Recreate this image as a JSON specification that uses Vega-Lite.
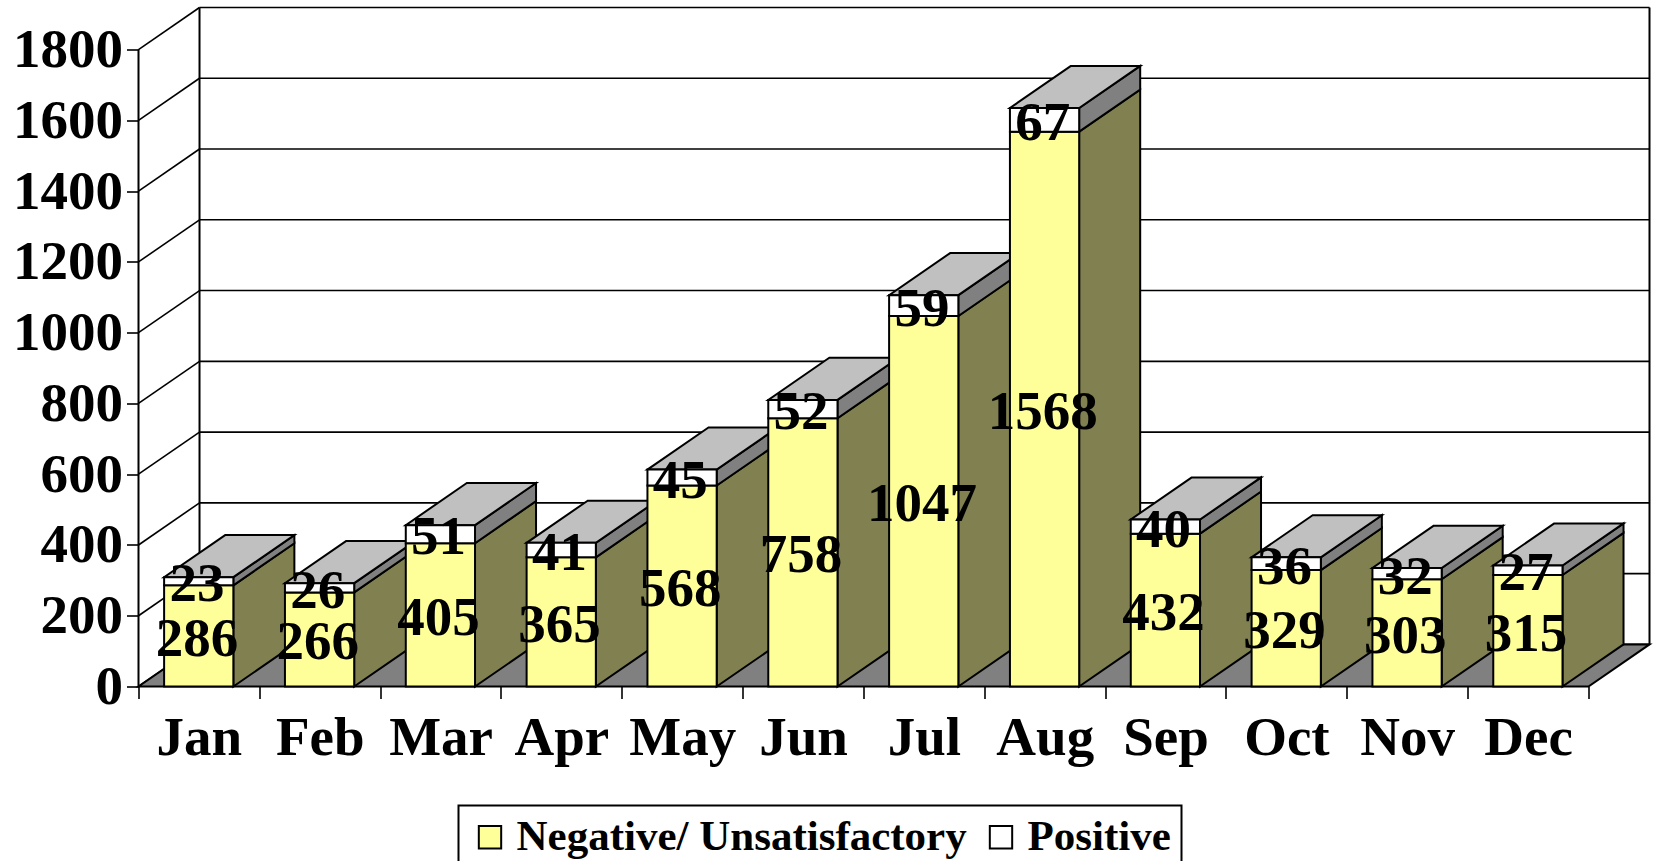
{
"$schema":"https://vega.github.io/schema/vega-lite/v6.json",
"width":1511,"height":679,"autosize":{"type":"none"},
"padding":{"left":138.5,"top":7.5,"right":6.5,"bottom":174.5},
"background":"white",
"config":{"view":{"stroke":null},"font":"Liberation Serif","legend":{"strokeWidth":2}},
"datasets":{
"months":[
{"month":"Jan","neg":286,"pos":23},{"month":"Feb","neg":266,"pos":26},{"month":"Mar","neg":405,"pos":51},{"month":"Apr","neg":365,"pos":41},{"month":"May","neg":568,"pos":45},{"month":"Jun","neg":758,"pos":52},{"month":"Jul","neg":1047,"pos":59},{"month":"Aug","neg":1568,"pos":67},{"month":"Sep","neg":432,"pos":40},{"month":"Oct","neg":329,"pos":36},{"month":"Nov","neg":303,"pos":32},{"month":"Dec","neg":315,"pos":27}],
"grid":[{"v":0},{"v":200},{"v":400},{"v":600},{"v":800},{"v":1000},{"v":1200},{"v":1400},{"v":1600},{"v":1800}],
"cats":[{"c":0},{"c":1},{"c":2},{"c":3},{"c":4},{"c":5},{"c":6},{"c":7},{"c":8},{"c":9},{"c":10},{"c":11},{"c":12}],
"depth":[{"d":0},{"d":1}]
},
"data":{"name":"months"},
"transform":[
{"window":[{"op":"row_number","as":"n"}]},
{"calculate":"datum.n-0.5-0.288","as":"x0"},
{"calculate":"datum.n-0.5+0.285","as":"x1"},
{"calculate":"datum.neg+datum.pos","as":"total"}
],
"resolve":{"axis":{"x":"independent","y":"independent"}},
"layer":[
{"data":{"name":"grid"},
 "transform":[{"calculate":"datum.v+119","as":"yb"},{"calculate":"0.505","as":"xa"},{"calculate":"12.505","as":"xb"}],
 "mark":{"type":"rule","stroke":"black","strokeWidth":1.6},
 "encoding":{"x":{"field":"xa","type":"quantitative","scale":{"domain":[0,12.505],"nice":false,"zero":false},"axis":{"values":[0,1,2,3,4,5,6,7,8,9,10,11,12],"orient":"bottom","labels":false,"domain":false,"grid":false,"ticks":true,"tickSize":12,"tickWidth":1.6,"tickColor":"black","title":null}},
 "x2":{"field":"xb"},
 "y":{"field":"yb","type":"quantitative","scale":{"domain":[0,1919],"nice":false,"zero":false},"axis":{"values":[0,200,400,600,800,1000,1200,1400,1600,1800],"format":"d","orient":"left","domain":false,"grid":false,"tickSize":12,"tickWidth":1.6,"tickColor":"black","labelPadding":4,"labelFont":"Liberation Serif","labelFontWeight":"bold","labelFontSize":55,"labelColor":"black","title":null}}}},
{"data":{"name":"grid"},
 "transform":[{"calculate":"datum.v+119","as":"yb"},{"calculate":"0","as":"xa"},{"calculate":"0.505","as":"xb"}],
 "mark":{"type":"rule","stroke":"black","strokeWidth":1.6},
 "encoding":{"x":{"field":"xa","type":"quantitative","axis":null},"x2":{"field":"xb"},"y":{"field":"v","type":"quantitative","axis":null},"y2":{"field":"yb"}}},
{"data":{"values":[{"x":0,"a":0,"b":1800},{"x":0.505,"a":119,"b":1919},{"x":12.505,"a":119,"b":1919}]},
 "mark":{"type":"rule","stroke":"black","strokeWidth":2},
 "encoding":{"x":{"field":"x","type":"quantitative","axis":null},"y":{"field":"a","type":"quantitative","axis":null},"y2":{"field":"b"}}},
{"data":{"name":"depth"},
 "transform":[{"calculate":"datum.d*0.505","as":"xa"},{"calculate":"12+datum.d*0.505","as":"xb"},{"calculate":"datum.d*119","as":"yb"}],
 "mark":{"type":"area","orient":"horizontal","fill":"#808080","stroke":"black","strokeWidth":2},
 "encoding":{"x":{"field":"xa","type":"quantitative","axis":null},"x2":{"field":"xb"},"y":{"field":"yb","type":"quantitative","axis":null}}},
{"transform":[{"calculate":"[0,1]","as":"d"},{"flatten":["d"]},{"calculate":"datum.x1+datum.d*0.505","as":"xs"},{"calculate":"datum.d*119","as":"ya"},{"calculate":"datum.neg+datum.d*119","as":"yb"}],
 "mark":{"type":"area","fill":"#808050","stroke":"black","strokeWidth":2},
 "encoding":{"detail":{"field":"month"},"x":{"field":"xs","type":"quantitative","axis":null},"y":{"field":"ya","type":"quantitative","axis":null,"stack":null},"y2":{"field":"yb"}}},
{"transform":[{"calculate":"[0,1]","as":"d"},{"flatten":["d"]},{"calculate":"datum.x1+datum.d*0.505","as":"xs"},{"calculate":"datum.neg+datum.d*119","as":"ya"},{"calculate":"datum.total+datum.d*119","as":"yb"}],
 "mark":{"type":"area","fill":"#808080","stroke":"black","strokeWidth":2},
 "encoding":{"detail":{"field":"month"},"x":{"field":"xs","type":"quantitative","axis":null},"y":{"field":"ya","type":"quantitative","axis":null,"stack":null},"y2":{"field":"yb"}}},
{"transform":[{"calculate":"[0,1]","as":"d"},{"flatten":["d"]},{"calculate":"datum.x0+datum.d*0.505","as":"xa"},{"calculate":"datum.x1+datum.d*0.505","as":"xb"},{"calculate":"datum.total+datum.d*119","as":"yb"}],
 "mark":{"type":"area","orient":"horizontal","fill":"#c0c0c0","stroke":"black","strokeWidth":2},
 "encoding":{"detail":{"field":"month"},"x":{"field":"xa","type":"quantitative","axis":null},"x2":{"field":"xb"},"y":{"field":"yb","type":"quantitative","axis":null}}},
{"transform":[{"fold":["neg","pos"],"as":["key","value"]},{"calculate":"datum.key=='neg'?'Negative/ Unsatisfactory':'Positive'","as":"series"},{"calculate":"datum.key=='neg'?0:datum.neg","as":"lo"},{"calculate":"datum.lo+datum.value","as":"hi"}],
 "mark":{"type":"rect","stroke":"black","strokeWidth":2},
 "encoding":{"x":{"field":"x0","type":"quantitative","axis":null},"x2":{"field":"x1"},"y":{"field":"lo","type":"quantitative","axis":null},"y2":{"field":"hi"},
 "fill":{"field":"series","type":"nominal","scale":{"domain":["Negative/ Unsatisfactory","Positive"],"range":["#ffff99","#ffffff"]},
  "legend":{"orient":"none","legendX":320,"legendY":798,"direction":"horizontal","columns":2,"title":null,"strokeColor":"black","fillColor":"white","padding":10,"labelFont":"Liberation Serif","labelFontWeight":"bold","labelFontSize":43,"labelColor":"black","labelLimit":600,"labelOffset":5,"columnPadding":12,"symbolType":"square","symbolSize":500,"symbolStrokeColor":"black","symbolStrokeWidth":2}}}},
{"data":{"name":"cats"},
 "mark":{"type":"rule","opacity":0},
 "transform":[{"calculate":"datum.c+0.5","as":"p"}],
 "encoding":{"x":{"field":"p","type":"quantitative","axis":{"values":[0.5,1.5,2.5,3.5,4.5,5.5,6.5,7.5,8.5,9.5,10.5,11.5],"orient":"bottom","domain":false,"ticks":false,"grid":false,"labelFlush":false,"labelOverlap":false,"labelPadding":25,"labelFont":"Liberation Serif","labelFontWeight":"bold","labelFontSize":55,"labelColor":"black","title":null,"labelExpr":"['Jan','Feb','Mar','Apr','May','Jun','Jul','Aug','Sep','Oct','Nov','Dec'][floor(datum.value)]"}}}},
{"transform":[{"fold":["neg","pos"],"as":["key","value"]},{"calculate":"datum.key=='neg'?datum.value/2:datum.neg+datum.value/2","as":"mid"},{"calculate":"datum.n-0.5","as":"cx"}],
 "mark":{"type":"text","font":"Liberation Serif","fontWeight":"bold","fontSize":55,"color":"black","dx":-2,"dy":3,"baseline":"middle"},
 "encoding":{"x":{"field":"cx","type":"quantitative","axis":null},"y":{"field":"mid","type":"quantitative","axis":null},"text":{"field":"value","type":"quantitative"}}}
]
}
